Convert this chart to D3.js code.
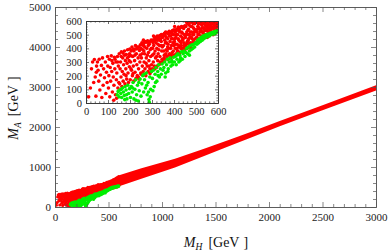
<!DOCTYPE html>
<html>
<head>
<meta charset="utf-8">
<script src="https://cdn.jsdelivr.net/npm/d3@7"></script>
<style>
  body { margin: 0; background: #fff; }
  text { font-family: "Liberation Serif", "DejaVu Serif", serif; }
</style>
</head>
<body>
<div id="chart"></div>
<script>
// scan points, [M_H, M_A] in GeV
var redPts = [
  [12,45],[20,110],[25,250],[30,300],[35,150],[38,318],[42,190],[45,50],[47,225],[48,270],
  [52,300],[55,240],[58,160],[60,320],[63,95],[66,205],[70,275],[72,40],[75,330],[78,130],
  [80,250],[84,185],[88,300],[90,70],[93,225],[96,150],[98,340],[99,270],
  [102,110],[104,200],[106,320],[108,45],[110,260],[112,160],[115,345],[117,230],[118,310],[120,80],
  [122,290],[124,190],[126,20],[127,130],[129,335],[131,250],[132,320],[134,60],[136,300],[138,170],
  [139,35],[140,220],[143,340],[144,300],[145,110],[147,270],[149,150],
  [151,360],[153,140],[155,250],[157,300],[159,190],[160,340],[161,375],[163,120],[165,230],[167,330],
  [168,365],[169,160],[171,280],[173,210],[175,380],[176,350],[177,140],[179,310],[181,250],[182,200],
  [183,355],[185,175],[187,290],[188,330],[189,390],[191,220],[193,150],[195,340],[196,310],[197,265],
  [198,360],[199,395],
  [201,170],[203,300],[204,250],[205,380],[206,345],[207,240],[209,410],[211,200],[212,390],[213,340],
  [214,215],[215,270],[217,160],[218,380],[219,395],[221,310],[222,350],[223,225],[225,420],[227,180],
  [228,395],[229,360],[231,280],[232,400],[233,200],[235,410],[237,330],[238,190],[239,250],[240,410],
  [241,175],[243,385],[245,300],[246,350],[247,425],[249,220],
  [250,400],[251,210],[252,330],[254,440],[255,360],[256,270],[258,390],[258,425],[260,230],[261,460],
  [262,420],[263,380],[264,300],[265,440],[266,360],[267,410],[268,250],[270,450],[272,200],[273,290],
  [274,330],[275,445],[276,400],[278,270],[279,350],[280,455],[282,230],[283,420],[284,370],[285,440],
  [286,310],[287,270],[288,430],[290,250],[291,215],[292,390],[293,450],[294,340],[296,460],[297,400],
  [298,280],[299,235],
  [301,250],[302,350],[303,400],[304,460],[305,440],[306,300],[307,490],[308,420],[309,360],[310,270],
  [311,455],[312,480],[313,250],[314,380],[315,470],[316,330],[317,470],[318,440],[319,480],[320,260],
  [321,340],[322,400],[323,270],[324,490],[325,460],[326,310],[327,430],[328,360],[329,485],[330,470],
  [331,390],[332,280],[333,490],[334,420],[335,460],[336,340],[337,300],[338,495],[339,470],[340,290],
  [341,420],[342,450],[343,500],[344,380],[345,495],[346,320],[347,410],[348,480],[349,300],[350,490],
  [351,305],[352,420],[353,380],[354,500],[355,330],[355,505],[356,350],[357,510],[358,460],[359,495],
  [360,320],[361,440],[362,520],[363,360],[364,390],[365,480],[366,440],[367,515],[368,340],[369,380],
  [370,510],[371,410],[372,470],[373,430],[374,320],[375,505],[376,400],[377,350],[378,525],[379,490],
  [380,360],[381,515],[382,450],[383,520],[384,490],[385,400],[386,330],[387,350],[388,420],[389,470],
  [390,520],[391,500],[392,370],[393,530],[394,470],[395,440],[396,345],[397,380],[398,500],[399,420],
  [400,535],[401,350],[402,450],[403,560],[404,520],[405,470],[406,400],[407,430],[408,480],[409,525],
  [410,360],[411,500],[412,540],[413,400],[414,430],[415,380],[416,500],[417,540],[418,380],[419,470],
  [420,555],[421,420],[422,460],[423,530],[424,410],[425,545],[426,520],[427,450],[428,370],[429,550],
  [430,490],[431,400],[432,440],[433,420],[434,560],[435,520],[436,400],[437,480],[438,510],[439,460],
  [440,380],[441,555],[442,470],[443,400],[444,545],[445,440],[446,420],[447,560],[448,500],[449,390],
  [450,565],[451,395],[452,480],[453,420],[454,560],[455,500],[456,430],[457,590],[458,520],[459,440],
  [460,400],[461,450],[462,580],[463,530],[464,460],[465,500],[465,580],[466,540],[467,470],[468,410],
  [469,570],[470,500],[471,430],[472,590],[473,480],[474,440],[475,520],[476,560],[477,400],[478,420],
  [478,595],[479,480],[480,520],[481,560],[482,470],[483,440],[484,590],[485,500],[486,430],[487,580],
  [488,550],[489,460],[490,500],[490,590],[491,520],[492,440],[493,540],[494,580],[496,470],[497,590],
  [498,530],[499,440],
  [501,440],[502,520],[503,480],[504,595],[505,600],[506,470],[507,540],[508,560],[509,500],[510,450],
  [511,580],[512,600],[513,550],[514,500],[515,470],[516,580],[517,520],[518,460],[519,600],[520,540],
  [521,470],[522,600],[523,530],[524,490],[525,590],[526,570],[527,600],[528,470],[529,550],[530,520],
  [531,480],[532,595],[533,510],[534,480],[535,580],[536,550],[537,600],[538,600],[539,540],[540,500],
  [541,530],[542,570],[543,600],[544,485],[545,590],[546,530],[547,560],[548,600],[549,490],[550,560],
  [551,480],[552,540],[553,580],[554,600],[555,520],[556,500],[557,600],[558,570],[560,490],[561,550],
  [562,600],[563,570],[564,530],[565,600],[566,590],[567,540],[568,505],[569,580],[570,560],[571,590],
  [572,600],[573,550],[574,520],[575,550],[576,580],[577,600],[578,500],[579,600],[580,550],[581,575],
  [582,600],[583,540],[584,520],[585,600],[586,570],[587,590],[588,510],[589,560],[590,600],[591,570],
  [592,540],[593,600],[594,580],[595,595],[596,525],[597,570],[598,600],[599,560],
  [485,615],[500,630],[510,625],[520,650],[530,640],[540,665],[545,680],[550,660],[560,700],[570,700],
  [575,720],[580,730],[590,720],[595,760]
];

var greenPts = [
  [142,60],[146,85],[150,45],[154,95],[158,70],[160,100],[162,40],[166,110],[170,80],[174,55],
  [176,25],[178,120],[182,95],[184,60],[186,30],[190,130],[194,70],[198,105],
  [202,40],[206,120],[210,80],[212,110],[214,150],[218,30],[222,100],[226,170],[228,20],[230,60],
  [234,130],[238,15],[240,150],[242,90],[246,175],[250,50],
  [254,140],[258,200],[262,80],[264,210],[266,170],[270,110],[274,220],[276,130],[278,60],[282,150],
  [284,80],[286,25],[288,5],[290,190],[292,45],[294,100],[298,230],
  [302,180],[304,90],[306,240],[310,120],[314,210],[316,150],[318,260],[322,160],[326,230],[328,200],
  [330,280],[334,190],[338,250],[342,210],[346,285],[350,240],
  [354,260],[358,300],[360,190],[362,220],[366,280],[370,320],[372,230],[374,250],[378,300],[382,330],
  [386,270],[388,300],[390,310],[394,280],[398,335],
  [402,300],[406,340],[410,280],[412,350],[414,320],[418,360],[422,300],[426,350],[428,310],[430,330],
  [434,375],[438,320],[442,360],[446,380],[450,340],
  [454,370],[458,400],[462,360],[466,410],[470,350],[470,380],[474,420],[478,390],[482,425],[486,400],
  [490,430],[494,410],[498,440],
  [504,430],[508,460],[512,440],[516,470],[520,450],[524,480],[528,460],[532,490],[536,470],[540,495],
  [544,480],[548,500],
  [552,485],[556,505],[560,490],[564,510],[568,500],[572,515],[576,505],[580,520],[584,505],[588,525],
  [592,515],[596,530]
];

// visual edges of the dense red band at large M_H
var bandMH = [500, 607, 800, 1121, 1400, 1636, 1822, 2100, 2500, 3000];
var bandLo = [455, 525, 700, 985, 1280, 1530, 1725, 2020, 2420, 2915];
var bandHi = [650, 800, 960, 1205, 1465, 1690, 1870, 2150, 2545, 3045];

var mainXTicks = [0, 500, 1000, 1500, 2000, 2500, 3000];
var mainYTicks = [0, 1000, 2000, 3000, 4000, 5000];
var insetTicks = [0, 100, 200, 300, 400, 500, 600];

var RED = '#ff0000', GREEN = '#00ee00';

var svg = d3.select('#chart').append('svg')
  .attr('width', 390).attr('height', 252);

function minorOf(scale, step, major) {
  var d = scale.domain();
  return d3.range(d[0], d[1] + 1e-6, step).filter(function(v) { return major.indexOf(v) < 0; });
}

// Mathematica-style frame: ticks on all four sides pointing inward, labels left and bottom
function drawFrame(g, x, y, o) {
  var x0 = x.range()[0], x1 = x.range()[1], y0 = y.range()[0], y1 = y.range()[1];
  var xm = minorOf(x, o.xMinor, o.xTicks), ym = minorOf(y, o.yMinor, o.yTicks);
  var fmt = d3.format('d');
  var axes = [
    [d3.axisBottom(x).tickValues(o.xTicks).tickSize(-o.major).tickPadding(o.xPad).tickFormat(fmt), 0, y0],
    [d3.axisBottom(x).tickValues(xm).tickSize(-o.minor).tickFormat(''), 0, y0],
    [d3.axisTop(x).tickValues(o.xTicks).tickSize(-o.major).tickFormat(''), 0, y1],
    [d3.axisTop(x).tickValues(xm).tickSize(-o.minor).tickFormat(''), 0, y1],
    [d3.axisLeft(y).tickValues(o.yTicks).tickSize(-o.major).tickPadding(o.yPad).tickFormat(fmt), x0, 0],
    [d3.axisLeft(y).tickValues(ym).tickSize(-o.minor).tickFormat(''), x0, 0],
    [d3.axisRight(y).tickValues(o.yTicks).tickSize(-o.major).tickFormat(''), x1, 0],
    [d3.axisRight(y).tickValues(ym).tickSize(-o.minor).tickFormat(''), x1, 0]
  ];
  axes.forEach(function(a) {
    var ag = g.append('g')
      .attr('transform', 'translate(' + a[1] + ',' + a[2] + ')')
      .call(a[0].tickSizeOuter(0));
    ag.attr('font-family', null).attr('font-size', null);
    ag.selectAll('.domain').attr('stroke', o.color).attr('stroke-width', 0.8);
    ag.selectAll('line').attr('stroke', o.color).attr('stroke-width', 0.7);
    ag.selectAll('text').attr('fill', '#222').style('font-size', o.fontSize + 'px');
  });
}

function dots(g, data, x, y, color, r) {
  g.selectAll(null).data(data).enter().append('circle')
    .attr('cx', function(d) { return x(d[0]); })
    .attr('cy', function(d) { return y(d[1]); })
    .attr('r', r)
    .attr('fill', color);
}

// ---- main plot
var mx = d3.scaleLinear().domain([0, 3000]).range([55, 376]);
var my = d3.scaleLinear().domain([0, 5000]).range([207, 7]);

svg.append('clipPath').attr('id', 'clipMain').append('rect')
  .attr('x', 55).attr('y', 7).attr('width', 321).attr('height', 200);

var main = svg.append('g').attr('clip-path', 'url(#clipMain)');
main.append('path')
  .datum(d3.range(bandMH.length))
  .attr('fill', RED)
  .attr('d', d3.area()
    .x(function(i) { return mx(bandMH[i]); })
    .y0(function(i) { return my(bandLo[i]); })
    .y1(function(i) { return my(bandHi[i]); }));
dots(main, redPts, mx, my, RED, 1.6);
dots(main, greenPts, mx, my, GREEN, 1.6);

drawFrame(svg.append('g'), mx, my, {
  xTicks: mainXTicks, yTicks: mainYTicks, xMinor: 100, yMinor: 200,
  major: 5, minor: 3, xPad: 6, yPad: 4, fontSize: 11, color: '#555'
});

// ---- inset
var ix = d3.scaleLinear().domain([0, 600]).range([86, 218]);
var iy = d3.scaleLinear().domain([0, 600]).range([103, 21]);

svg.append('rect').attr('x', 86).attr('y', 21).attr('width', 132).attr('height', 82).attr('fill', '#fff');
svg.append('clipPath').attr('id', 'clipInset').append('rect')
  .attr('x', 86).attr('y', 21).attr('width', 132).attr('height', 82);

var inset = svg.append('g').attr('clip-path', 'url(#clipInset)');
dots(inset, redPts, ix, iy, RED, 1.8);
dots(inset, greenPts, ix, iy, GREEN, 1.8);

drawFrame(svg.append('g'), ix, iy, {
  xTicks: insetTicks, yTicks: insetTicks, xMinor: 20, yMinor: 20,
  major: 3, minor: 1.6, xPad: 5, yPad: 4, fontSize: 10.5, color: '#333'
});

// ---- axis titles
function title(t, sub) {
  t.attr('text-anchor', 'middle').attr('fill', '#111').style('font-size', '14px');
  t.append('tspan').attr('font-style', 'italic').text('M');
  t.append('tspan').attr('font-style', 'italic').attr('dy', 3).style('font-size', '9.5px').text(sub);
  t.append('tspan').attr('dx', 6).attr('dy', -3).text('[GeV');
  t.append('tspan').attr('dx', 4).text(']');
}
title(svg.append('text').attr('x', 216).attr('y', 246.5), 'H');
title(svg.append('text').attr('transform', 'translate(18,108) rotate(-90)'), 'A');
</script>
</body>
</html>
